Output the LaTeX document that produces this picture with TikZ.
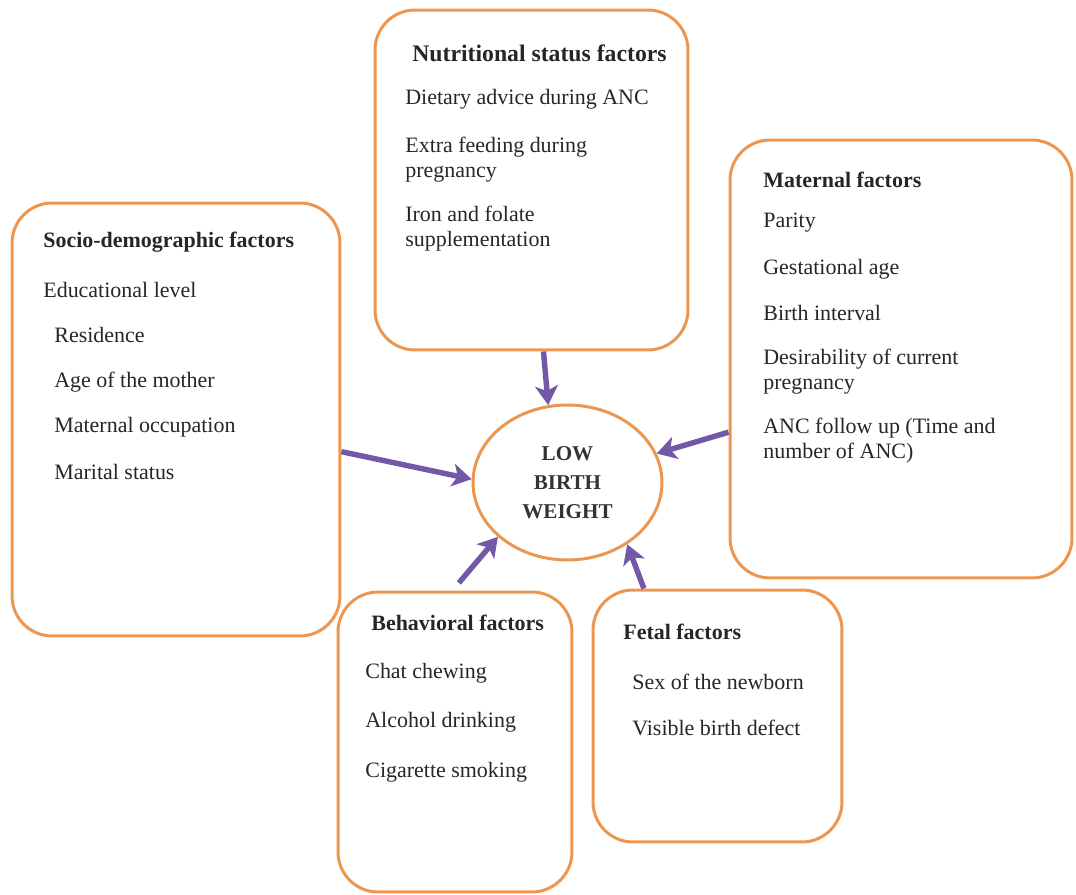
\documentclass[tikz,border=0pt]{standalone}
\usepackage{fontspec}
\setmainfont{Liberation Serif}
\usetikzlibrary{arrows.meta,shapes.geometric}
\definecolor{boxorange}{RGB}{236,150,80}
\definecolor{linkpurple}{RGB}{116,88,168}
\tikzset{
  factorbox/.style={draw=boxorange,line width=1.7pt,rounded corners=0.8cm,inner sep=0pt},
  head/.style={anchor=west,inner sep=0pt,font=\fontsize{12.5}{14.2}\selectfont\bfseries,text=black!85},
  item/.style={anchor=west,inner sep=0pt,align=left,font=\fontsize{12.5}{14.2}\selectfont,text=black!85},
  link/.style={draw=linkpurple,line width=3.1pt,-{Stealth[length=11pt,width=13pt,inset=3pt]}}
}
\begin{document}
\begin{tikzpicture}[x=0.02cm,y=-0.02cm]
\useasboundingbox (0,0) rectangle (1076,895);
% the five groups of factors
\node[factorbox,minimum width=6.56cm,minimum height=8.66cm](socio) at (176,419.5){};
\node[factorbox,minimum width=6.26cm,minimum height=6.8cm](nutri) at (531.5,180){};
\node[factorbox,minimum width=6.84cm,minimum height=8.76cm](matern) at (901,359){};
\node[factorbox,minimum width=4.68cm,minimum height=6cm](behav) at (455,742){};
\node[factorbox,minimum width=4.98cm,minimum height=5.04cm](fetal) at (717.5,716){};
% outcome
\node[ellipse,draw=boxorange,line width=1.7pt,minimum width=3.78cm,minimum height=3.1cm,inner sep=0pt,align=center,font=\fontsize{12}{16.4}\selectfont\bfseries,text=black!80](lbw) at (567.5,482.5){LOW\\BIRTH\\WEIGHT};
% socio-demographic
\node[head](sociot) at (43,242){Socio-demographic factors};
\node[item](edu) at (43,290){Educational level};
\node[item](res) at (54,335){Residence};
\node[item](age) at (54,382){Age of the mother};
\node[item](occ) at (54,427){Maternal occupation};
\node[item](mar) at (54,472){Marital status};
% nutritional status
\node[head,font=\fontsize{13.5}{15}\selectfont\bfseries](nutrit) at (412,53){Nutritional status factors};
\node[item](diet) at (405,99){Dietary advice during ANC};
\node[item](feed) at (405,159.5){Extra feeding during\\pregnancy};
\node[item](iron) at (405,228.5){Iron and folate\\supplementation};
% maternal
\node[head](matt) at (763,180){Maternal factors};
\node[item](par) at (763,223){Parity};
\node[item](gest) at (763,269){Gestational age};
\node[item](intv) at (763,313){Birth interval};
\node[item](des) at (763,372){Desirability of current\\pregnancy};
\node[item](anc) at (763,440.5){ANC follow up (Time and\\number of ANC)};
% behavioral
\node[head](behavt) at (371,623){Behavioral factors};
\node[item](chat) at (365,673){Chat chewing};
\node[item](alc) at (365,722){Alcohol drinking};
\node[item](cig) at (365,772){Cigarette smoking};
% fetal
\node[head](fetalt) at (623,632){Fetal factors};
\node[item](sex) at (632,682){Sex of the newborn};
\node[item](def) at (632,728){Visible birth defect};
% arrows into the outcome
\draw[link](socio.-11.2)--(lbw.178.5);
\draw[link](nutri.-86.1)--(lbw.104);
\draw[link](matern.203.7)--(lbw.18.6);
\draw[link,shorten <=0.2cm](behav.91.5)--(lbw.218);
\draw[link](fetal.120.6)--(lbw.-46);
\end{tikzpicture}
\end{document}
